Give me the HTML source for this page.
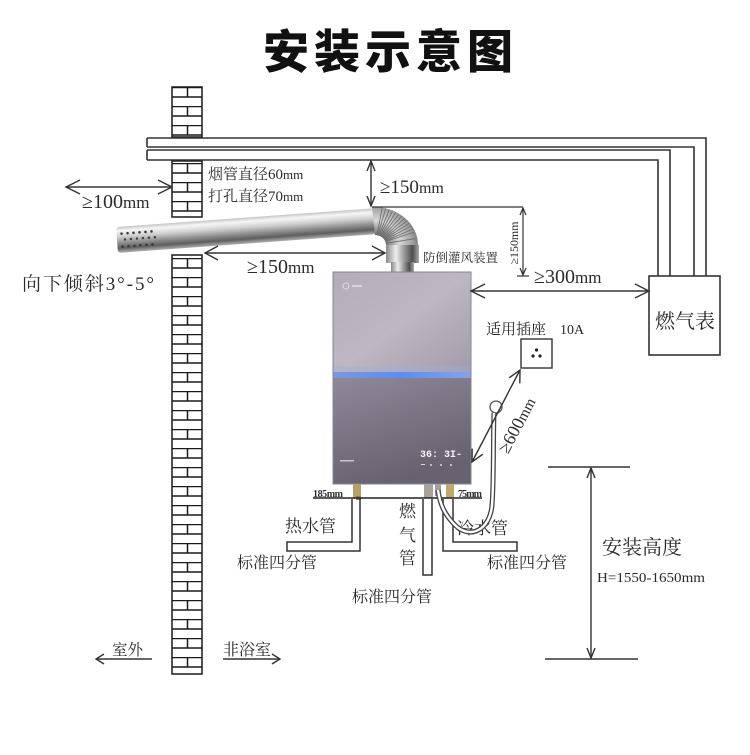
<!DOCTYPE html>
<html><head><meta charset="utf-8"><style>
html,body{margin:0;padding:0;background:#fff;}
svg{display:block;}
.s{font-family:"Liberation Serif","Noto Serif CJK SC",serif;fill:#2a2a2a;}
</style></head><body>
<svg width="750" height="755" viewBox="0 0 750 755" xmlns="http://www.w3.org/2000/svg">
<defs>
<pattern id="brick" patternUnits="userSpaceOnUse" x="172" y="87" width="30" height="19">
<rect width="30" height="19" fill="#fff"/>
<line x1="0" y1="0.5" x2="30" y2="0.5" stroke="#1a1a1a" stroke-width="1.5"/>
<line x1="0" y1="10" x2="30" y2="10" stroke="#1a1a1a" stroke-width="1.5"/>
<line x1="15.5" y1="0" x2="15.5" y2="10" stroke="#1a1a1a" stroke-width="1.5"/>
</pattern>
<linearGradient id="pipe" x1="0" y1="0" x2="0" y2="1">
<stop offset="0" stop-color="#c4c4c4"/><stop offset="0.15" stop-color="#f6f6f6"/><stop offset="0.38" stop-color="#cfcfcf"/><stop offset="0.62" stop-color="#8e8e8e"/><stop offset="0.82" stop-color="#5e5e5e"/><stop offset="1" stop-color="#b0b0b0"/>
</linearGradient>
<linearGradient id="collar" x1="0" y1="0" x2="1" y2="0">
<stop offset="0" stop-color="#8a8a8a"/><stop offset="0.3" stop-color="#eeeeee"/><stop offset="0.55" stop-color="#9a9a9a"/><stop offset="0.8" stop-color="#4e4e4e"/><stop offset="1" stop-color="#a8a8a8"/>
</linearGradient>
<radialGradient id="elb" cx="375" cy="245" r="45" gradientUnits="userSpaceOnUse">
<stop offset="0.2" stop-color="#6a6a6a"/><stop offset="0.55" stop-color="#d8d8d8"/><stop offset="0.8" stop-color="#a8a8a8"/><stop offset="1" stop-color="#777"/>
</radialGradient>
<linearGradient id="up" x1="0" y1="0" x2="1" y2="1">
<stop offset="0" stop-color="#b3adb8"/><stop offset="0.5" stop-color="#bcb7c1"/><stop offset="1" stop-color="#a29aa9"/>
</linearGradient>
<linearGradient id="lo" x1="0" y1="0" x2="0.4" y2="1">
<stop offset="0" stop-color="#8f8898"/><stop offset="1" stop-color="#686170"/>
</linearGradient>
<linearGradient id="band" x1="0" y1="0" x2="1" y2="0">
<stop offset="0" stop-color="#7d98d8"/><stop offset="0.5" stop-color="#5d8cf2"/><stop offset="1" stop-color="#86a4e4"/>
</linearGradient>
</defs>

<!-- Title -->
<text x="263" y="68" font-family="'Noto Sans CJK SC','WenQuanYi Zen Hei',sans-serif" font-weight="900" font-size="46" fill="#111" textLength="250" lengthAdjust="spacing">安装示意图</text>

<!-- Brick wall -->
<rect x="172" y="87" width="30" height="50" fill="url(#brick)" stroke="#1a1a1a" stroke-width="1.5"/>
<rect x="172" y="161" width="30" height="56" fill="url(#brick)" stroke="#1a1a1a" stroke-width="1.5"/>
<rect x="172" y="255" width="30" height="419" fill="url(#brick)" stroke="#1a1a1a" stroke-width="1.5"/>

<!-- Gas pipes -->
<g fill="none" stroke="#333" stroke-width="1.6">
<path d="M147,138 H706 V276"/>
<path d="M147,147 H694 V276"/>
<path d="M147,138 V147"/>
<path d="M147,150 H670 V276"/>
<path d="M147,160 H658 V276"/>
<path d="M147,150 V160"/>
</g>
<!-- Meter -->
<rect x="649" y="276" width="71" height="79" fill="#fff" stroke="#333" stroke-width="1.6"/>
<text class="s" x="655" y="328" font-size="20">燃气表</text>

<!-- Flue pipe -->
<g transform="translate(117,240) rotate(-4.16)">
<rect x="0" y="-13" width="262" height="26" rx="3" fill="url(#pipe)"/>
<g fill="#3a3a3a">
<circle cx="5" cy="-6" r="1.3"/><circle cx="11" cy="-6" r="1.3"/><circle cx="17" cy="-6" r="1.3"/><circle cx="23" cy="-6" r="1.3"/><circle cx="29" cy="-6" r="1.3"/><circle cx="35" cy="-6" r="1.3"/>
<circle cx="8" cy="0" r="1.2"/><circle cx="14" cy="0" r="1.2"/><circle cx="20" cy="0" r="1.2"/><circle cx="26" cy="0" r="1.2"/><circle cx="32" cy="0" r="1.2"/><circle cx="38" cy="0" r="1.2"/>
<circle cx="5" cy="7" r="1.3"/><circle cx="11" cy="7" r="1.3"/><circle cx="17" cy="7" r="1.3"/><circle cx="23" cy="7" r="1.3"/><circle cx="29" cy="7" r="1.3"/><circle cx="35" cy="7" r="1.3"/>
</g>
</g>
<path d="M372,207 A44,38 0 0 1 418,246 L386,246 A11,10 0 0 0 375,235 Z" fill="url(#elb)"/>
<g stroke="#6e6e6e" stroke-width="0.9">
<line x1="376.9" y1="235.2" x2="382.3" y2="207.6"/><line x1="378.8" y1="235.6" x2="389.4" y2="209.3"/><line x1="380.5" y1="236.3" x2="396" y2="212.1"/><line x1="382.1" y1="237.3" x2="402" y2="215.9"/><line x1="383.4" y1="238.6" x2="407.2" y2="220.6"/><line x1="384.5" y1="240" x2="411.4" y2="226"/><line x1="385.3" y1="241.6" x2="414.5" y2="232"/><line x1="385.8" y1="243.3" x2="416.4" y2="238.4"/>
<line x1="377.8" y1="235.4" x2="385.8" y2="208.3"/><line x1="379.6" y1="235.9" x2="392.7" y2="210.6"/><line x1="381.3" y1="236.8" x2="399" y2="213.9"/><line x1="382.8" y1="237.9" x2="404.8" y2="218.2"/><line x1="384" y1="239.3" x2="409.5" y2="223.2"/><line x1="385" y1="240.8" x2="413.1" y2="229"/>
</g>
<rect x="386" y="245" width="33" height="18" fill="url(#collar)"/>
<rect x="391" y="262" width="23" height="10" fill="url(#collar)"/>

<!-- Heater -->
<rect x="333" y="272" width="138" height="103" fill="url(#up)"/>
<rect x="333" y="377" width="138" height="107" fill="url(#lo)"/>
<rect x="333" y="372" width="138" height="6" fill="url(#band)"/>
<rect x="333" y="366" width="138" height="6" fill="#9fb0e0" opacity="0.35"/>
<rect x="333" y="272" width="138" height="212" fill="none" stroke="#8a8490" stroke-width="1"/>
<circle cx="346" cy="286" r="3" fill="none" stroke="#e8e6ea" stroke-width="0.8"/>
<rect x="352" y="285" width="10" height="2" fill="#d8d6dc"/>
<text x="420" y="457" font-family="'Liberation Mono',monospace" font-size="10" fill="#f2f2f6" font-weight="bold">36: 3I-</text>
<g fill="#d8d8e0"><rect x="421" y="464" width="4" height="1"/><circle cx="431" cy="465" r="1"/><circle cx="441" cy="465" r="1"/><circle cx="451" cy="465" r="1"/></g>
<rect x="340" y="460" width="14" height="1.5" fill="#c8c6cc"/>

<!-- Fittings -->
<rect x="353" y="484" width="8" height="14" fill="#b7a06c"/>
<rect x="356" y="496" width="5" height="4" fill="#8b7a52"/>
<rect x="424" y="484" width="9" height="14" fill="#a8a29a"/>
<rect x="435" y="484" width="6" height="12" fill="#a0a0a0"/>
<rect x="446" y="484" width="8" height="14" fill="#c0a86e"/>

<!-- Bottom pipes -->
<line x1="313" y1="498" x2="482" y2="498" stroke="#222" stroke-width="1.6"/>
<text x="313" y="497" font-family="'Liberation Serif',serif" font-size="10" font-weight="bold" fill="#333" textLength="30">185mm</text>
<text x="458" y="497" font-family="'Liberation Serif',serif" font-size="10" font-weight="bold" fill="#333" textLength="24">75mm</text>
<g fill="none" stroke="#333" stroke-width="1.5">
<path d="M352,499 V542 H287 V551 H360 V499"/>
<path d="M423,499 V575 H432 V499"/>
<path d="M453,499 V542 H517 V551 H443 V499"/>
</g>
<text class="s" x="285" y="532" font-size="17">热水管</text>
<text class="s" x="237" y="568" font-size="16">标准四分管</text>
<text class="s" x="399" y="517" font-size="17">燃</text>
<text class="s" x="399" y="541" font-size="17">气</text>
<text class="s" x="399" y="564" font-size="17">管</text>
<text class="s" x="352" y="602" font-size="16">标准四分管</text>
<text class="s" x="457" y="534" font-size="17">冷水管</text>
<text class="s" x="487" y="568" font-size="16">标准四分管</text>

<!-- Hose -->
<circle cx="496" cy="407" r="6" fill="none" stroke="#555" stroke-width="1.3"/>
<path d="M494,413 C493,440 494,480 492,505 C490,530 470,540 455,525 C445,515 440,505 438,490" fill="none" stroke="#444" stroke-width="5"/>
<path d="M494,413 C493,440 494,480 492,505 C490,530 470,540 455,525 C445,515 440,505 438,490" fill="none" stroke="#fff" stroke-width="2.4"/>

<!-- Dimensions -->
<g fill="none" stroke="#333" stroke-width="1.4">
<!-- >=100 -->
<line x1="66" y1="187" x2="172" y2="187"/>
<path d="M80,180 L66,187 L80,194"/><path d="M158,180 L172,187 L158,194"/>
<!-- >=150 horizontal -->
<line x1="205" y1="253" x2="385" y2="253"/>
<path d="M218,246 L205,253 L218,260"/><path d="M372,246 L385,253 L372,260"/>
<!-- >=150 vertical -->
<line x1="371" y1="161" x2="371" y2="206"/>
<path d="M367,171 L371,161 L375,171"/><path d="M367,196 L371,206 L375,196"/>
<line x1="372" y1="207" x2="523" y2="207" stroke-width="1.2"/>
<line x1="523" y1="208" x2="523" y2="276" stroke-width="1.2"/>
<path d="M520,215 L523,208 L526,215" stroke-width="1.2"/>
<path d="M520,268 L523,275 L526,268" stroke-width="1.2"/>
<line x1="517" y1="276" x2="529" y2="276" stroke-width="1.2"/>
<!-- >=300 -->
<line x1="471" y1="291" x2="649" y2="291"/>
<path d="M485,284 L471,291 L485,298"/><path d="M635,284 L649,291 L635,298"/>
<!-- >=600 -->
<line x1="520" y1="370" x2="472" y2="462"/>
<path d="M519.8,383.4 L520,370 L509.2,377.8"/><path d="M482.8,454.2 L472,462 L472.2,448.6"/>
<!-- height -->
<line x1="548" y1="467" x2="630" y2="467"/>
<line x1="545" y1="659" x2="638" y2="659"/>
<line x1="591" y1="468" x2="591" y2="658"/>
<path d="M587,478 L591,468 L595,478"/><path d="M587,648 L591,658 L595,648"/>
<!-- bottom arrows -->
<line x1="96" y1="659" x2="152" y2="659"/>
<path d="M104,654 L96,659 L104,664"/>
<line x1="223" y1="659" x2="280" y2="659"/>
<path d="M272,654 L280,659 L272,664"/>
</g>

<!-- Labels -->
<text class="s" x="82" y="208" font-size="20">≥100<tspan font-size="17">mm</tspan></text>
<text class="s" x="208" y="179" font-size="15">烟管直径60<tspan font-size="13">mm</tspan></text>
<text class="s" x="208" y="201" font-size="15">打孔直径70<tspan font-size="13">mm</tspan></text>
<text class="s" x="22" y="290" font-size="19" textLength="132" lengthAdjust="spacing">向下倾斜3°-5°</text>
<text class="s" x="247" y="273" font-size="20">≥150<tspan font-size="17">mm</tspan></text>
<text class="s" x="380" y="193" font-size="19">≥150<tspan font-size="16">mm</tspan></text>
<text class="s" transform="translate(518,243) rotate(-90)" x="0" y="0" font-size="12" text-anchor="middle" textLength="43" lengthAdjust="spacingAndGlyphs">≥150mm</text>
<text class="s" x="423" y="262" font-size="12.5">防倒灌风装置</text>
<text class="s" x="534" y="283" font-size="20">≥300<tspan font-size="17">mm</tspan></text>
<text class="s" x="486" y="334" font-size="15">适用插座</text>
<text class="s" x="560" y="334" font-size="14">10A</text>
<rect x="521" y="339" width="31" height="29" fill="#fff" stroke="#333" stroke-width="1.4"/>
<g fill="#222"><circle cx="536.5" cy="350" r="1.6"/><circle cx="533" cy="356" r="1.6"/><circle cx="540" cy="356" r="1.6"/></g>
<text class="s" transform="translate(522,428) rotate(-62.4)" x="0" y="0" font-size="18" text-anchor="middle">≥600<tspan font-size="15">mm</tspan></text>
<text class="s" x="602" y="554" font-size="20">安装高度</text>
<text class="s" x="597" y="582" font-size="14" textLength="108" lengthAdjust="spacingAndGlyphs">H=1550-1650mm</text>
<text class="s" x="112" y="655" font-size="15.5">室外</text>
<text class="s" x="223" y="655" font-size="16">非浴室</text>
</svg>
</body></html>
